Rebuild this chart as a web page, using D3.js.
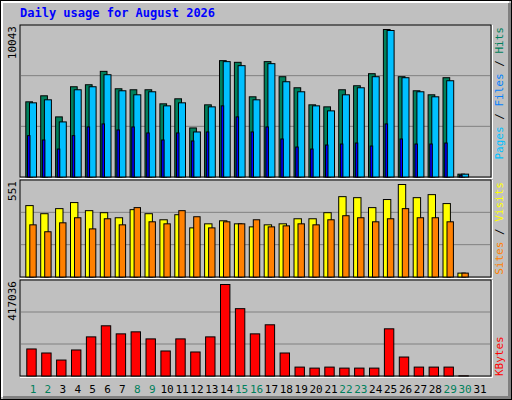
<!DOCTYPE html>
<html><head><meta charset="utf-8">
<script src="https://cdn.jsdelivr.net/npm/d3@7"></script>
<style>body{margin:0;background:#fff}svg{display:block}text{font-family:"DejaVu Sans Mono",monospace}</style>
</head><body><svg id="c" width="512" height="400"></svg>
<script>
const days = d3.range(1,32);
const weekend = [1,2,8,9,15,16,22,23,29,30];
const hits  = [5135,5544,4113,6158,6294,7203,6021,5953,5953,4999,5340,3363,4931,7930,7816,5476,7862,6839,6089,4931,4794,5953,6226,7044,10043,6839,5885,5612,6771,227,0];
const files = [5067,5272,3772,5953,6158,6975,5885,5612,5817,4862,5067,3090,4794,7862,7589,5272,7725,6498,5817,4862,4522,5612,6089,6839,9975,6771,5817,5476,6566,227,0];
const pages = [2840,2545,1931,2840,3431,3635,3226,3431,3022,2545,3022,2477,3090,4862,4113,3090,3431,2613,2068,1931,2204,2272,2340,2136,3635,2613,2272,2272,2340,150,0];
const visits= [426,378,408,444,396,384,354,402,378,342,372,294,318,336,318,300,312,318,348,348,384,479,473,414,462,551,473,491,438,26,0];
const sites = [312,271,324,354,288,348,312,414,330,318,396,360,294,330,318,342,300,306,318,312,342,366,354,330,348,408,354,354,330,26,0];
const kbytes= [124812,106543,74580,120245,179608,229836,193305,202437,170476,115679,170476,111113,179608,417036,307465,193305,234402,106543,42619,38053,42619,38053,38053,38053,216136,88281,42619,42619,42619,3000,0];
const maxLabels = ["10043","551","417036"];

const svg = d3.select("#c");
svg.append("rect").attr("width",512).attr("height",400).attr("fill","#C0C0C0");
// 3D frame
svg.append("rect").attr("x",0.5).attr("y",0.5).attr("width",511).attr("height",399).attr("fill","none").attr("stroke","#000");
svg.append("path").attr("d","M2,397V2H509").attr("stroke","#fff").attr("stroke-width",2).attr("fill","none");
svg.append("path").attr("d","M3,397.5H509.5V3").attr("stroke","#808080").attr("stroke-width",3).attr("fill","none");

svg.append("text").attr("x",20).attr("y",17).attr("fill","#0000FF").attr("font-weight","bold").attr("font-size",12).text("Daily usage for August 2026");

const x = d3.scaleLinear().domain([1,31]).range([33,480]);
const L=20,R=491;
const panels=[{top:25,bot:177,hi:29},{top:180,bot:277,hi:184},{top:280,bot:376,hi:284}];

panels.forEach((p,i)=>{
  svg.append("rect").attr("x",L).attr("y",p.top).attr("width",R-L).attr("height",p.bot-p.top).attr("fill","#C0C0C0").attr("stroke","#000");
  svg.append("path").attr("d",`M${L},${p.bot+1.5}H${R+1.5}V${p.top}`).attr("stroke","#fff").attr("fill","none");
  const h=p.bot-p.top;
  [1,2].forEach(k=>svg.append("line").attr("x1",L+1).attr("x2",R-1).attr("y1",p.bot-h*k/3).attr("y2",p.bot-h*k/3).attr("stroke","#808080"));
  svg.append("text").attr("transform",`translate(16,${p.top+1}) rotate(-90)`).attr("text-anchor","end").attr("font-size",11).attr("fill","#000").text(maxLabels[i]);
});

function bars(data,max,p,dx,w,fill){
  const y=d3.scaleLinear().domain([0,max]).range([p.bot,p.hi]);
  svg.append("g").selectAll("rect").data(data.map((v,i)=>[days[i],v]).filter(d=>d[1]>0)).join("rect")
    .attr("x",d=>x(d[0])+dx+0.5).attr("width",w).attr("y",d=>y(d[1])+0.5).attr("height",d=>Math.max(0,p.bot-y(d[1])-0.5))
    .attr("fill",fill).attr("stroke","#000");
}
bars(hits,10043,panels[0],-7.7,6.7,"#00805C");
bars(files,10043,panels[0],-4,7,"#00C0FF");
bars(pages,10043,panels[0],-6,2.5,"#0000FF");
bars(visits,551,panels[1],-7.7,7.4,"#FFFF00");
bars(sites,551,panels[1],-3.7,6.4,"#FF8000");
bars(kbytes,417036,panels[2],-6.7,9.4,"#FF0000");

function rlabel(y,parts){
  const t=svg.append("text").attr("transform",`translate(503,${y}) rotate(-90)`).attr("text-anchor","end").attr("font-size",11);
  parts.forEach(([s,c])=>t.append("tspan").attr("fill",c).text(s));
}
rlabel(27,[["Pages","#00C0FF"],[" / ","#000"],["Files","#0080FF"],[" / ","#000"],["Hits","#00805C"]]);
rlabel(182,[["Sites","#FF8000"],[" / ","#000"],["Visits","#FFFF00"]]);
rlabel(282+0,[]);
svg.append("text").attr("transform",`translate(503,376) rotate(-90)`).attr("font-size",11).attr("fill","#FF0000").text("KBytes");

svg.append("g").selectAll("text").data(days).join("text").attr("x",d=>x(d)).attr("y",393).attr("text-anchor","middle")
  .attr("font-size",11).attr("fill",d=>weekend.includes(d)?"#00805C":"#000").text(d=>d);
</script></body></html>
